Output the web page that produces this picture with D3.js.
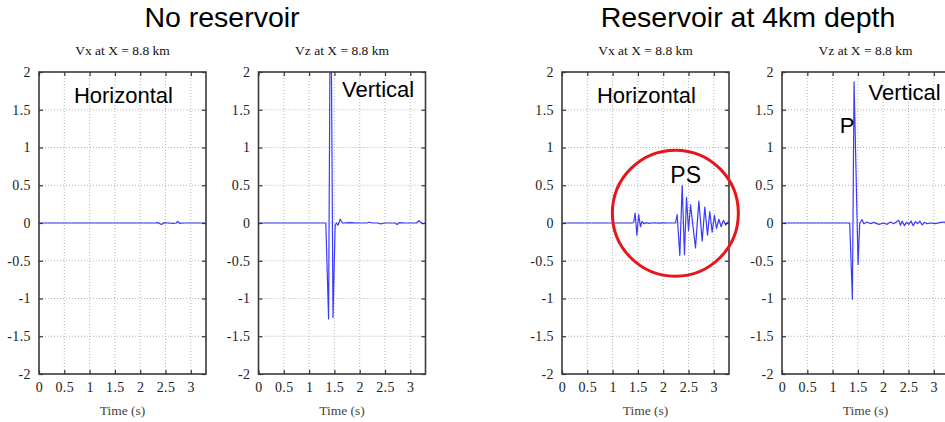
<!DOCTYPE html>
<html>
<head>
<meta charset="utf-8">
<script src="https://cdn.jsdelivr.net/npm/d3@7"></script>
<style>
  html, body { margin: 0; padding: 0; background: #fff; }
  svg { display: block; }
  .tick text { font-family: "Liberation Serif", "Times New Roman", serif; font-size: 14px; fill: #222; letter-spacing: 0.4px; }
</style>
</head>
<body>
<svg id="chart" width="945" height="422"></svg>
<script>
// Seismogram traces: [time (s), velocity] pairs
const noResVx = [
  [0, 0], [2.30, 0], [2.35, 0.005], [2.42, -0.02], [2.47, 0.004], [2.55, 0],
  [2.65, -0.005], [2.71, 0], [2.74, 0.022], [2.78, -0.004], [2.85, 0], [3.3, 0]
];
const noResVz = [
  [0, 0], [1.33, 0], [1.385, -1.27], [1.425, 3.8], [1.472, -1.25], [1.515, -0.03],
  [1.54, 0], [1.57, -0.03], [1.615, 0.05], [1.66, 0], [1.8, 0.005], [2.0, 0],
  [2.14, 0], [2.18, 0.01], [2.25, 0], [2.35, 0], [2.41, -0.012], [2.5, 0],
  [2.7, 0], [2.74, -0.02], [2.78, 0.005], [2.9, 0], [3.12, 0], [3.17, 0.03],
  [3.22, 0], [3.26, -0.01], [3.3, 0]
];
const resVx = [
  [0, 0], [1.40, 0], [1.42, 0.02], [1.445, 0.13], [1.48, -0.16], [1.515, 0.11],
  [1.55, -0.05], [1.58, 0.02], [1.62, -0.01], [1.66, 0.005], [1.72, -0.004],
  [1.8, 0.003], [1.9, -0.002], [2.0, 0.002], [2.1, 0], [2.242, 0],
  [2.276, 0.11], [2.328, -0.43], [2.375, 0.50], [2.42, -0.42], [2.46, 0.34],
  [2.50, -0.10], [2.54, 0.24], [2.638, -0.33], [2.704, 0.29], [2.77, -0.24],
  [2.822, 0.21], [2.875, -0.16], [2.92, 0.15], [2.967, -0.12], [3.013, 0.10],
  [3.053, -0.07], [3.10, 0.05], [3.145, -0.05], [3.19, 0.035], [3.237, -0.03],
  [3.27, 0.01], [3.3, 0.005]
];
const resVz = [
  [0, 0], [1.338, 0], [1.391, -1.01], [1.424, 1.87], [1.503, -0.55], [1.536, 0],
  [1.55, 0.01], [1.583, 0.044], [1.616, -0.009], [1.681, 0.013], [1.747, -0.009],
  [1.813, 0.009], [1.912, -0.018], [2.011, 0], [2.077, -0.018], [2.143, 0.013],
  [2.209, -0.009], [2.308, 0.035], [2.341, -0.031], [2.374, 0.026], [2.420, -0.035],
  [2.460, 0.009], [2.506, -0.018], [2.552, 0.026], [2.592, -0.035], [2.638, 0.018],
  [2.684, -0.009], [2.724, 0.026], [2.770, -0.026], [2.816, 0.009], [2.869, -0.009],
  [2.935, 0], [3.034, -0.009], [3.133, 0.009], [3.232, 0.013], [3.3, 0.01]
];

const xTicks = [0, 0.5, 1, 1.5, 2, 2.5, 3];
const yTicks = [-2, -1.5, -1, -0.5, 0, 0.5, 1, 1.5, 2];
const timeDomain = [0, 3.3];
const velDomain = [-2, 2];

const groupTitles = [
  { text: "No reservoir", cx: 222 },
  { text: "Reservoir at 4km depth", cx: 748 }
];

// Panel layout and annotations (annotation positions in data units)
const panels = [
  { left: 39, title: "Vx at X = 8.8 km", data: noResVx,
    notes: [{ text: "Horizontal", t: 0.69, v: 1.585 }] },
  { left: 258.5, title: "Vz at X = 8.8 km", data: noResVz,
    notes: [{ text: "Vertical", t: 1.65, v: 1.67 }] },
  { left: 562, title: "Vx at X = 8.8 km", data: resVx,
    notes: [{ text: "Horizontal", t: 0.69, v: 1.585 }, { text: "PS", t: 2.14, v: 0.525, size: 23 }],
    ring: { t: 2.24, v: 0.13, r: 63 } },
  { left: 782, title: "Vz at X = 8.8 km", data: resVz,
    notes: [{ text: "Vertical", t: 1.71, v: 1.625 }, { text: "P", t: 1.14, v: 1.19 }] }
];

const PW = 167, TOP = 72, BOTTOM = 374;
const svg = d3.select("#chart");

svg.selectAll("text.group-title")
  .data(groupTitles)
  .join("text")
  .attr("class", "group-title")
  .attr("x", d => d.cx)
  .attr("y", 27)
  .attr("text-anchor", "middle")
  .attr("font-family", "Liberation Sans, Arial, sans-serif")
  .attr("font-size", 28.5)
  .attr("fill", "#000")
  .text(d => d.text);

// plain number labels with an ASCII hyphen for negatives
const fmt = d => String(d);

panels.forEach((p, i) => {
  const x = d3.scaleLinear().domain(timeDomain).range([p.left, p.left + PW]);
  const y = d3.scaleLinear().domain(velDomain).range([BOTTOM, TOP]);
  const g = svg.append("g");

  // dotted grid
  g.append("g").selectAll("line.gx")
    .data(xTicks.filter(t => t > 0))
    .join("line")
    .attr("x1", d => x(d)).attr("x2", d => x(d))
    .attr("y1", TOP).attr("y2", BOTTOM)
    .attr("stroke", "#b4b4b4").attr("stroke-width", 1).attr("stroke-dasharray", "1,2");
  g.append("g").selectAll("line.gy")
    .data(yTicks.filter(v => v > -2 && v < 2))
    .join("line")
    .attr("x1", p.left).attr("x2", p.left + PW)
    .attr("y1", d => y(d)).attr("y2", d => y(d))
    .attr("stroke", "#b4b4b4").attr("stroke-width", 1).attr("stroke-dasharray", "1,2");

  // trace, clipped to the plot area
  const clipId = "clip" + i;
  svg.append("clipPath").attr("id", clipId)
    .append("rect").attr("x", p.left).attr("y", TOP).attr("width", PW).attr("height", BOTTOM - TOP);
  g.append("path")
    .datum(p.data)
    .attr("clip-path", `url(#${clipId})`)
    .attr("fill", "none")
    .attr("stroke", "#3b3bf7")
    .attr("stroke-width", 1.2)
    .attr("stroke-linejoin", "round")
    .attr("d", d3.line().x(d => x(d[0])).y(d => y(d[1])));

  // axes with inward ticks on all four sides
  const bottom = g.append("g").attr("transform", `translate(0,${BOTTOM})`)
    .call(d3.axisBottom(x).tickValues(xTicks).tickSize(-4).tickPadding(8).tickFormat(fmt));
  const top = g.append("g").attr("transform", `translate(0,${TOP})`)
    .call(d3.axisTop(x).tickValues(xTicks).tickSize(-4).tickFormat(""));
  const left = g.append("g").attr("transform", `translate(${p.left},0)`)
    .call(d3.axisLeft(y).tickValues(yTicks).tickSize(-4).tickPadding(8).tickFormat(fmt));
  const right = g.append("g").attr("transform", `translate(${p.left + PW},0)`)
    .call(d3.axisRight(y).tickValues(yTicks).tickSize(-4).tickFormat(""));
  [bottom, top, left, right].forEach(a => {
    a.select(".domain").remove();
    a.selectAll(".tick line").attr("stroke", "#333").attr("stroke-width", 1.2);
  });

  // frame
  g.append("rect")
    .attr("x", p.left).attr("y", TOP).attr("width", PW).attr("height", BOTTOM - TOP)
    .attr("fill", "none").attr("stroke", "#3a3a3a").attr("stroke-width", 1.6);

  // panel title and axis label
  g.append("text")
    .attr("x", p.left + PW / 2).attr("y", 55)
    .attr("text-anchor", "middle")
    .attr("font-family", "Liberation Serif, Times New Roman, serif")
    .attr("font-size", 13.5).attr("fill", "#111")
    .text(p.title);
  g.append("text")
    .attr("x", p.left + PW / 2).attr("y", 415)
    .attr("text-anchor", "middle")
    .attr("font-family", "Liberation Serif, Times New Roman, serif")
    .attr("font-size", 13.5).attr("fill", "#444")
    .text("Time (s)");

  // annotations
  g.selectAll("text.note")
    .data(p.notes)
    .join("text")
    .attr("class", "note")
    .attr("x", d => x(d.t)).attr("y", d => y(d.v))
    .attr("font-family", "Liberation Sans, Arial, sans-serif")
    .attr("font-size", d => d.size || 22)
    .attr("fill", "#000")
    .text(d => d.text);

  if (p.ring) {
    g.append("circle")
      .attr("cx", x(p.ring.t)).attr("cy", y(p.ring.v)).attr("r", p.ring.r)
      .attr("fill", "none").attr("stroke", "#e8161b").attr("stroke-width", 3);
  }
});
</script>
</body>
</html>
